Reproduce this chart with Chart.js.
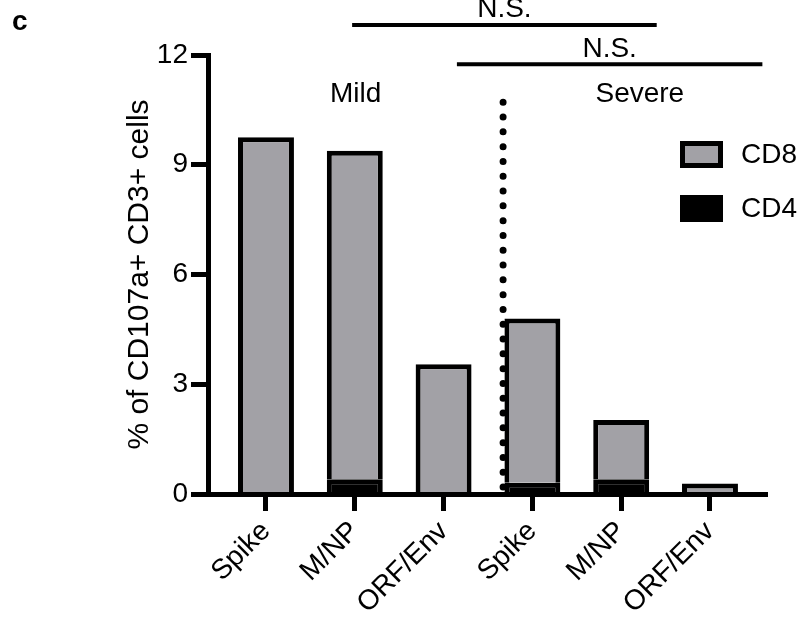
<!DOCTYPE html>
<html lang="en">
<head>
<meta charset="UTF-8" />
<title>% of CD107a+ CD3+ cells</title>
<script src="https://cdn.jsdelivr.net/npm/chart.js@4"></script>
<style>
  html, body { margin: 0; padding: 0; background: #fff; }
  canvas { display: block; }
</style>
</head>
<body>
<canvas id="chart" width="801" height="623"></canvas>
<script>
const categories = ["Spike", "M/NP", "ORF/Env", "Spike", "M/NP", "ORF/Env"];
const cd4Values = [0, 0.4, 0, 0.31, 0.4, 0];
const cd8Values = [9.75, 8.98, 3.55, 4.49, 1.62, 0.29];
const yTicks = [0, 3, 6, 9, 12];

// annotations, in data units
const groupLabels = [
  { text: "Mild", x: 1.01, y: 10.72 },
  { text: "Severe", x: 4.21, y: 10.72 }
];
const sigBars = [
  { from: 0.97, to: 4.40, y: 12.82, text: "N.S.", textY: 13.04 },
  { from: 2.15, to: 5.59, y: 11.75, text: "N.S.", textY: 11.95 }
];
const divider = { x: 2.67, top: 10.72, bottom: 0.19 };

const GRAY = "#a2a1a6";
const FONT = "'Liberation Sans', Arial, Helvetica, sans-serif";
Chart.defaults.font.family = FONT;
Chart.defaults.color = "#000";

const extras = {
  id: "extras",
  afterDraw(chart) {
    const { ctx, scales: { x, y } } = chart;
    ctx.save();

    // dotted divider between mild and severe
    ctx.strokeStyle = "#000";
    ctx.lineWidth = 7;
    ctx.lineCap = "round";
    ctx.setLineDash([0, 14.8]);
    ctx.beginPath();
    ctx.moveTo(x.getPixelForValue(divider.x), y.getPixelForValue(divider.bottom));
    ctx.lineTo(x.getPixelForValue(divider.x), y.getPixelForValue(divider.top));
    ctx.stroke();
    ctx.setLineDash([]);

    // significance bars
    ctx.lineCap = "butt";
    ctx.lineWidth = 4;
    ctx.fillStyle = "#000";
    ctx.font = "28px " + FONT;
    ctx.textAlign = "center";
    ctx.textBaseline = "alphabetic";
    sigBars.forEach((b) => {
      const py = y.getPixelForValue(b.y);
      ctx.beginPath();
      ctx.moveTo(x.getPixelForValue(b.from), py);
      ctx.lineTo(x.getPixelForValue(b.to), py);
      ctx.stroke();
      ctx.fillText(b.text, x.getPixelForValue((b.from + b.to) / 2), y.getPixelForValue(b.textY));
    });

    groupLabels.forEach((g) => {
      ctx.fillText(g.text, x.getPixelForValue(g.x), y.getPixelForValue(g.y));
    });

    // legend (CD8 on top, CD4 below)
    const items = chart.data.datasets.slice().reverse();
    items.forEach((ds, i) => {
      const top = 141 + i * 54;
      ctx.fillStyle = "#000";
      ctx.fillRect(680, top, 43, 27);
      ctx.fillStyle = ds.backgroundColor;
      ctx.fillRect(685, top + 5, 33, 17);
      ctx.fillStyle = "#000";
      ctx.textAlign = "left";
      ctx.textBaseline = "middle";
      ctx.fillText(ds.label, 741, top + 14);
    });

    // panel letter
    ctx.font = "bold 28px " + FONT;
    ctx.textAlign = "left";
    ctx.textBaseline = "alphabetic";
    ctx.fillText("c", 12, 30);
    ctx.restore();
  }
};

new Chart(document.getElementById("chart"), {
  type: "bar",
  data: {
    datasets: [
      {
        label: "CD4",
        data: categories.map((c, i) => ({ x: i, y: cd4Values[i] })),
        backgroundColor: "#000",
        borderColor: "#000",
        borderWidth: 5
      },
      {
        label: "CD8",
        data: categories.map((c, i) => ({ x: i, y: cd8Values[i] })),
        backgroundColor: GRAY,
        borderColor: "#000",
        borderWidth: 5
      }
    ]
  },
  options: {
    responsive: false,
    animation: false,
    barPercentage: 0.63,
    categoryPercentage: 1,
    layout: { padding: { top: 55, left: 122, right: 34, bottom: 0 } },
    plugins: { legend: { display: false }, tooltip: { enabled: false } },
    scales: {
      x: {
        type: "linear",
        stacked: true,
        offset: false,
        min: -0.653,
        max: 5.642,
        afterBuildTicks: (axis) => {
          axis.ticks = categories.map((c, i) => ({ value: i }));
        },
        afterFit: (scale) => { scale.height = 129; },
        grid: {
          offset: false,
          drawOnChartArea: false,
          tickLength: 17,
          tickWidth: 5,
          tickColor: "#000",
          z: 1
        },
        border: { display: true, color: "#000", width: 5, z: 1 },
        ticks: {
          autoSkip: false,
          minRotation: 45,
          maxRotation: 45,
          padding: 4,
          color: "#000",
          font: { size: 28 },
          callback: (value) => categories[value]
        }
      },
      y: {
        stacked: true,
        min: 0,
        max: 12,
        afterBuildTicks: (axis) => {
          axis.ticks = yTicks.map((v) => ({ value: v }));
        },
        afterFit: (scale) => { scale.width = 86; },
        grid: {
          drawOnChartArea: false,
          tickLength: 17,
          tickWidth: 5,
          tickColor: "#000",
          z: 1
        },
        border: { display: true, color: "#000", width: 5, z: 1 },
        ticks: {
          padding: 3,
          color: "#000",
          font: { size: 28 }
        },
        title: {
          display: true,
          text: "% of CD107a+ CD3+ cells",
          color: "#000",
          padding: 0,
          font: { size: 30 }
        }
      }
    }
  },
  plugins: [extras]
});
</script>
</body>
</html>
